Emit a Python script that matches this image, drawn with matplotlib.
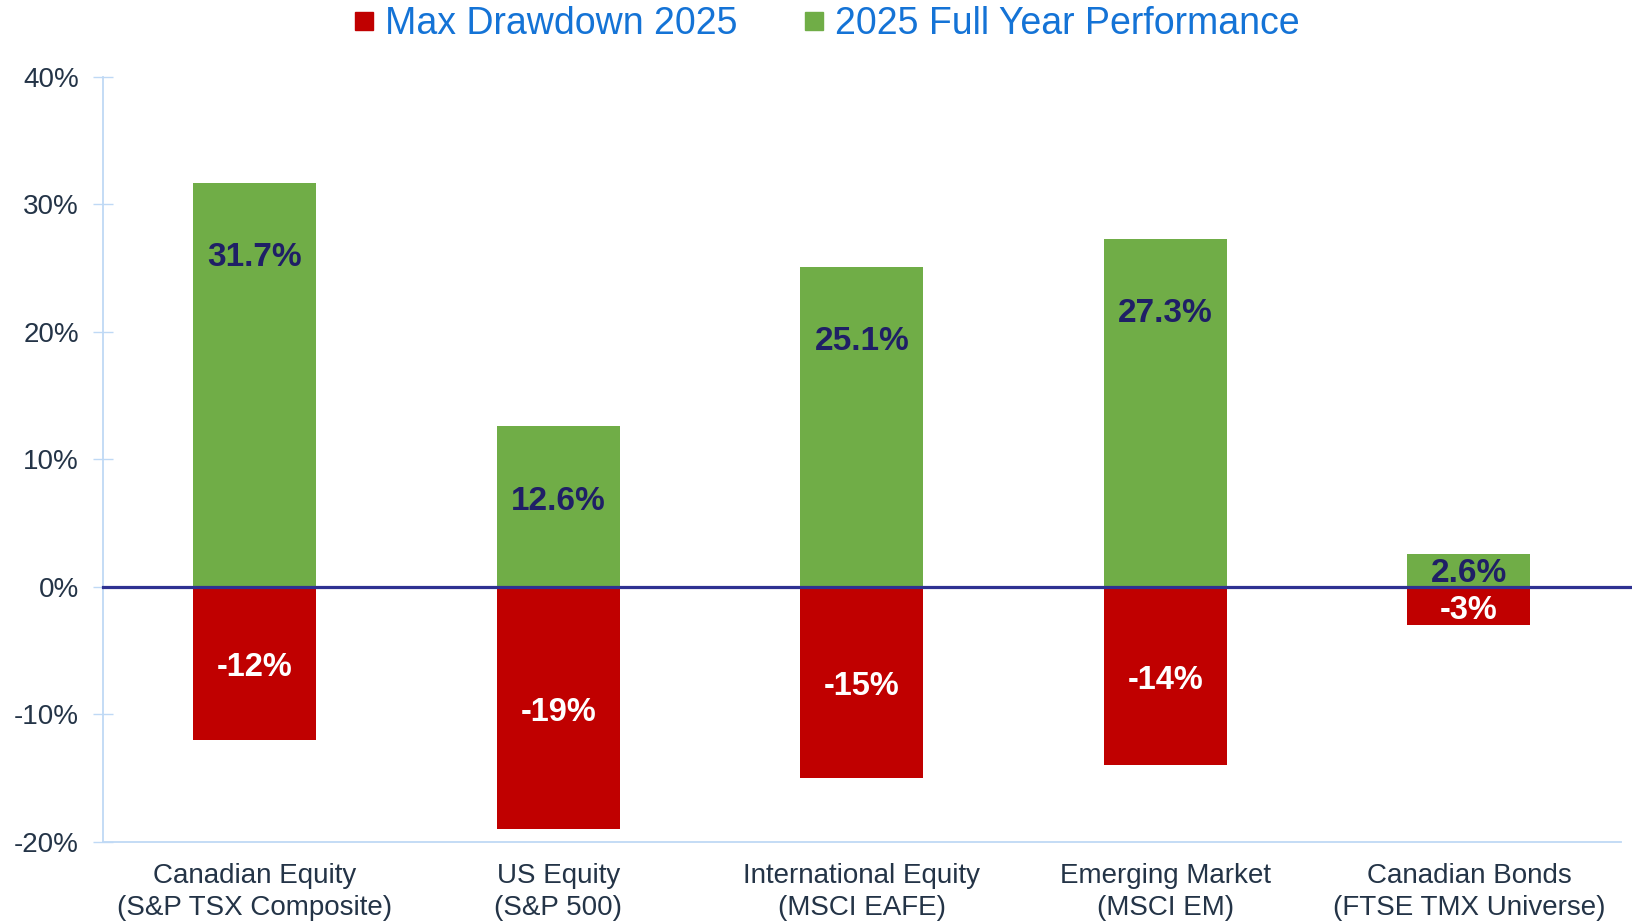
import matplotlib
matplotlib.use("Agg")
import matplotlib.pyplot as plt
from matplotlib.lines import Line2D
import numpy as np

plt.rcParams['font.family'] = ['Liberation Sans', 'DejaVu Sans']

categories = ["Canadian Equity\n(S&P TSX Composite)", "US Equity\n(S&P 500)",
              "International Equity\n(MSCI EAFE)", "Emerging Market\n(MSCI EM)",
              "Canadian Bonds\n(FTSE TMX Universe)"]
full_year = [31.7, 12.6, 25.1, 27.3, 2.6]
drawdown = [-12, -19, -15, -14, -3]
full_labels = ["31.7%", "12.6%", "25.1%", "27.3%", "2.6%"]
draw_labels = ["-12%", "-19%", "-15%", "-14%", "-3%"]
yticks = [-20, -10, 0, 10, 20, 30, 40]
ytick_labels = ["-20%", "-10%", "0%", "10%", "20%", "30%", "40%"]

GREEN = "#70AD47"
RED = "#C00000"
SPINE = "#BFD9F5"
TXT = "#243447"
NAVY = "#1F1F66"

fig = plt.figure(figsize=(16.32, 9.23), dpi=100)
ax = fig.add_axes([0.0631, 0.0881, 0.9931 - 0.0631, 0.9169 - 0.0881])

x = np.arange(len(categories))
w = 0.405
ax.bar(x, full_year, width=w, color=GREEN, zorder=2)
ax.bar(x, drawdown, width=w, color=RED, zorder=2)

for xi, v, lab in zip(x, full_year, full_labels):
    yl = v - 5.9 if v > 8 else v / 2 - 0.3
    ax.text(xi, yl, lab, ha='center', va='center', fontsize=24, fontweight='bold',
            color=NAVY, zorder=4)
for xi, v, lab in zip(x, drawdown, draw_labels):
    ax.text(xi, v / 2 - 0.35, lab, ha='center', va='center', fontsize=23.5, fontweight='bold',
            color='white', zorder=4)

ax.plot([0, 1.01], [0, 0], transform=ax.get_yaxis_transform(), color="#2E3192",
        lw=2.3, zorder=3, clip_on=False)

ax.set_xlim(-0.5, len(categories) - 0.5)
ax.set_ylim(-20, 40)
ax.set_yticks(yticks)
ax.set_yticklabels(ytick_labels, fontsize=20, color=TXT)
ax.set_xticks(x)
ax.set_xticklabels(categories, fontsize=20, color=TXT, linespacing=1.3)
ax.tick_params(axis='x', length=0, pad=15)
ax.tick_params(axis='y', direction='inout', length=13.7, width=1, color=SPINE, pad=10.5)

for s in ['top', 'right']:
    ax.spines[s].set_visible(False)
for s in ['left', 'bottom']:
    ax.spines[s].set_color(SPINE)
    ax.spines[s].set_linewidth(1.3)

handles = [Line2D([], [], marker='s', linestyle='none', markersize=12.5, color=RED),
           Line2D([], [], marker='s', linestyle='none', markersize=12.5, color=GREEN)]
fig.legend(handles, ["Max Drawdown 2025", "2025 Full Year Performance"],
           loc='center', bbox_to_anchor=(0.507, 0.9735), ncol=2, frameon=False,
           fontsize=27, labelcolor="#1473D6", handlelength=0.5, handletextpad=0.3,
           columnspacing=1.8, borderpad=0)

fig.savefig("out.png", dpi=100)
